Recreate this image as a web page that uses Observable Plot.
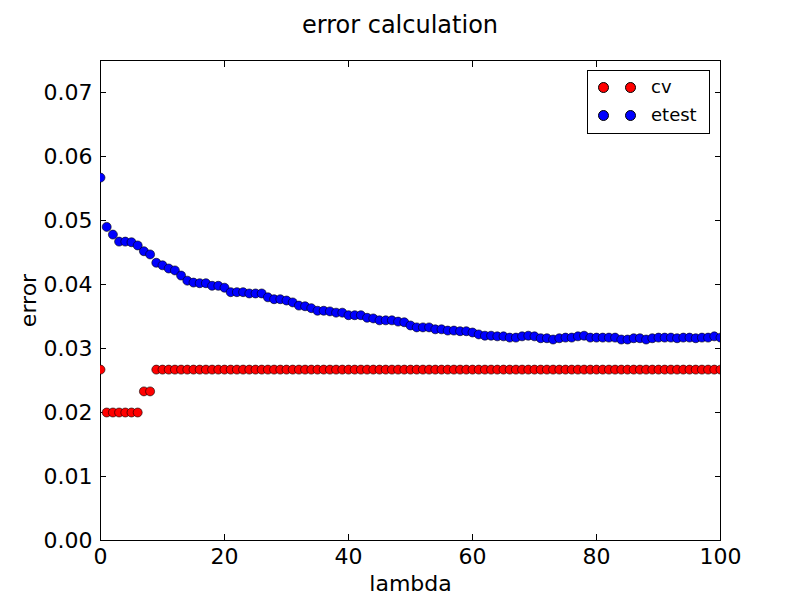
<!DOCTYPE html>
<html>
<head>
<meta charset="utf-8">
<script src="https://cdn.jsdelivr.net/npm/d3@7"></script>
<script src="https://cdn.jsdelivr.net/npm/@observablehq/plot@0.6"></script>
<style>
  body { margin: 0; background: #fff; font-family: "DejaVu Sans", sans-serif; }
  #wrap { position: relative; width: 800px; height: 600px; }
  #title { height: 60px; line-height: 50px; text-align: center; font-size: 24px; }
  #legend { position: absolute; left: 587px; top: 70px; width: 121px; height: 62px; border: 1px solid #000; background: #fff; font-size: 18px; }
  .row { position: absolute; left: 0; height: 24px; line-height: 24px; }
  .dot { position: absolute; width: 9px; height: 9px; border-radius: 50%; border: 1px solid #000; top: 7px; }
  .lab { position: absolute; left: 63px; white-space: nowrap; }
</style>
</head>
<body>
<div id="wrap">
  <div id="title">error calculation</div>
  <div id="plot"></div>
  <div id="legend"></div>
</div>
<script>
const lambdas = d3.range(0, 101);

const cv = [0.0267, 0.02, 0.02, 0.02, 0.02, 0.02, 0.02, 0.0233, 0.0233]
  .concat(Array(92).fill(0.0267));

const etest = [
  0.0567, 0.0490, 0.0478, 0.0467, 0.0467, 0.0466, 0.0461, 0.0452, 0.0447, 0.0434,
  0.0430, 0.0425, 0.0422, 0.0414, 0.0406, 0.0403, 0.0402, 0.0402, 0.0398, 0.0398,
  0.0395, 0.0388, 0.0388, 0.0388, 0.0386, 0.0386, 0.0386, 0.0380, 0.0377, 0.0377,
  0.0375, 0.0372, 0.0367, 0.0366, 0.0363, 0.0359, 0.0359, 0.0358, 0.0356, 0.0356,
  0.0352, 0.0352, 0.0352, 0.0348, 0.0347, 0.0344, 0.0344, 0.0344, 0.0342, 0.0341,
  0.0336, 0.0333, 0.0333, 0.0333, 0.0330, 0.0330, 0.0328, 0.0328, 0.0327, 0.0327,
  0.0325, 0.0322, 0.0320, 0.0320, 0.0319, 0.0319, 0.0317, 0.0317, 0.0319, 0.0320,
  0.0319, 0.0316, 0.0316, 0.0314, 0.0316, 0.0317, 0.0317, 0.0319, 0.0320, 0.0317,
  0.0317, 0.0317, 0.0317, 0.0317, 0.0314, 0.0314, 0.0316, 0.0316, 0.0314, 0.0316,
  0.0317, 0.0317, 0.0317, 0.0316, 0.0317, 0.0317, 0.0316, 0.0317, 0.0317, 0.0319,
  0.0317
];

const yTicks = [0, 0.01, 0.02, 0.03, 0.04, 0.05, 0.06, 0.07];
const xTicks = [0, 20, 40, 60, 80, 100];

const series = [
  {name: "cv", color: "#ff0000", values: cv},
  {name: "etest", color: "#0000ff", values: etest}
];

const rows = series.flatMap(s => s.values.map((v, i) => ({lambda: lambdas[i], error: v, name: s.name})));

const plot = Plot.plot({
  width: 800,
  height: 540,
  marginTop: 0,
  marginLeft: 100,
  marginRight: 80,
  marginBottom: 60,
  style: {fontFamily: "DejaVu Sans, sans-serif", fontSize: "15px", color: "#000"},
  x: {domain: [0, 100]},
  y: {domain: [0, 0.075]},
  color: {domain: series.map(s => s.name), range: series.map(s => s.color)},
  marks: [
    Plot.axisX({ticks: xTicks, tickSize: -6, tickPadding: 14, label: "lambda", labelAnchor: "center", labelArrow: false, labelOffset: 50, fontSize: 15}),
    Plot.axisX({anchor: "top", ticks: xTicks, tickSize: -6, tickFormat: () => "", label: null}),
    Plot.axisY({ticks: yTicks, tickSize: -6, tickPadding: 14, tickFormat: d3.format(".2f"), label: "error", labelAnchor: "center", labelArrow: false, labelOffset: 80}),
    Plot.axisY({anchor: "right", ticks: yTicks, tickSize: -6, tickFormat: () => "", label: null}),
    Plot.frame({stroke: "#000"}),
    Plot.dot(rows, {x: "lambda", y: "error", fill: "name", stroke: "#000", strokeWidth: 0.6, r: 4.5, clip: true})
  ]
});
plot.querySelectorAll('[aria-label$="label"] text, [aria-label="x-axis label"], [aria-label="y-axis label"]').forEach(t => t.style.fontSize = "22px");
document.getElementById("plot").append(plot);

const legend = document.getElementById("legend");
series.forEach((s, i) => {
  const row = document.createElement("div");
  row.className = "row";
  row.style.top = (4 + i * 28) + "px";
  row.style.width = "121px";
  [10, 37].forEach(x => {
    const d = document.createElement("div");
    d.className = "dot";
    d.style.left = x + "px";
    d.style.background = s.color;
    row.append(d);
  });
  const l = document.createElement("div");
  l.className = "lab";
  l.textContent = s.name;
  row.append(l);
  legend.append(row);
});
</script>
</body>
</html>
